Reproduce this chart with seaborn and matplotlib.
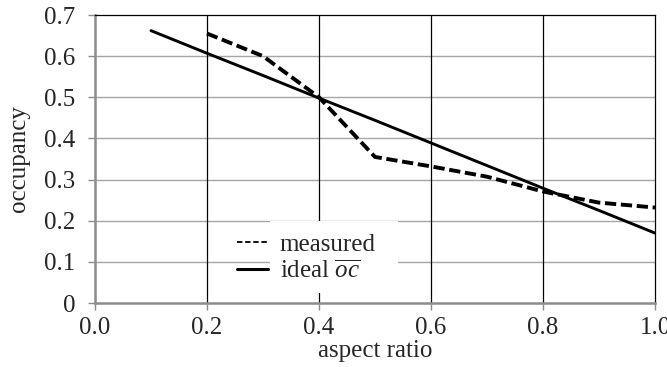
import matplotlib
matplotlib.use("Agg")
import matplotlib.pyplot as plt
import seaborn as sns
import pandas as pd
from matplotlib.patches import Rectangle

# data
ideal_x = [0.1, 0.2, 0.3, 0.4, 0.5, 0.6, 0.7, 0.8, 0.9, 1.0]
ideal_y = [0.662, 0.607, 0.553, 0.498, 0.444, 0.389, 0.334, 0.279, 0.225, 0.170]
meas_x = [0.2, 0.3, 0.4, 0.5, 0.6, 0.7, 0.8, 0.9, 1.0]
meas_y = [0.655, 0.600, 0.500, 0.355, 0.332, 0.307, 0.271, 0.244, 0.232]
x_ticks = [0.0, 0.2, 0.4, 0.6, 0.8, 1.0]
x_labels = ["0.0", "0.2", "0.4", "0.6", "0.8", "1.0"]
y_ticks = [0, 0.1, 0.2, 0.3, 0.4, 0.5, 0.6, 0.7]
y_labels = ["0", "0.1", "0.2", "0.3", "0.4", "0.5", "0.6", "0.7"]

sns.set_style("white")
plt.rcParams['font.family'] = ['Liberation Serif', 'DejaVu Serif']
plt.rcParams['mathtext.fontset'] = 'custom'
plt.rcParams['mathtext.rm'] = 'Liberation Serif'
plt.rcParams['mathtext.it'] = 'Liberation Serif:italic'

FS = 18

fig = plt.figure(figsize=(6.67, 3.67), dpi=100)
ax = fig.add_axes([95/667, 1-303/367, 560/667, 288/367])

df_m = pd.DataFrame({"x": meas_x, "y": meas_y})
df_i = pd.DataFrame({"x": ideal_x, "y": ideal_y})

sns.lineplot(data=df_m, x="x", y="y", ax=ax, color="black", lw=2.8,
             zorder=5, label="measured")
ax.lines[-1].set_dashes([2.9, 1.2])
sns.lineplot(data=df_i, x="x", y="y", ax=ax, color="black", lw=2.1,
             zorder=5, label=r"ideal $\overline{oc}$")

ax.set_xlim(0, 1.0)
ax.set_ylim(0, 0.7)
ax.set_xticks(x_ticks)
ax.set_xticklabels(x_labels)
ax.set_yticks(y_ticks)
ax.set_yticklabels(y_labels)

for yv in y_ticks[1:-1]:
    ax.axhline(yv, color="#a6a6a6", lw=1.0, zorder=1)
for xv in x_ticks[1:-1]:
    ax.axvline(xv, color="black", lw=0.9, zorder=1)

for s in ["top", "right"]:
    ax.spines[s].set_color("black")
    ax.spines[s].set_linewidth(0.9)
for s in ["left", "bottom"]:
    ax.spines[s].set_color("#8c8c8c")
    ax.spines[s].set_linewidth(1.8)

ax.tick_params(axis="both", which="major", labelsize=FS, length=5,
               color="#8c8c8c", width=1.0, direction="out",
               left=True, bottom=True)
ax.tick_params(axis="y", pad=9)
ax.tick_params(axis="x", pad=5)
ax.set_xlabel("aspect ratio", fontsize=FS, labelpad=1)
ax.set_ylabel("occupancy", fontsize=FS, labelpad=10)

# white background behind legend text
ax.add_patch(Rectangle(((270-95)/560, (303-293)/288), (398-270)/560, (293-221)/288,
                       transform=ax.transAxes, facecolor="white", edgecolor="none",
                       zorder=3))
leg = ax.legend(loc="center left", bbox_to_anchor=((237-95)/560, (303-258)/288),
                frameon=False, fontsize=FS, handlelength=1.25, handletextpad=0.45,
                labelspacing=0.15, borderpad=0, borderaxespad=0)
leg.set_zorder(6)
for h in leg.get_lines():
    h.set_linewidth(2.2)
leg.get_lines()[0].set_linewidth(1.3)
leg.get_lines()[0].set_dashes([3, 1.5])

fig.savefig("out.png", dpi=100)
